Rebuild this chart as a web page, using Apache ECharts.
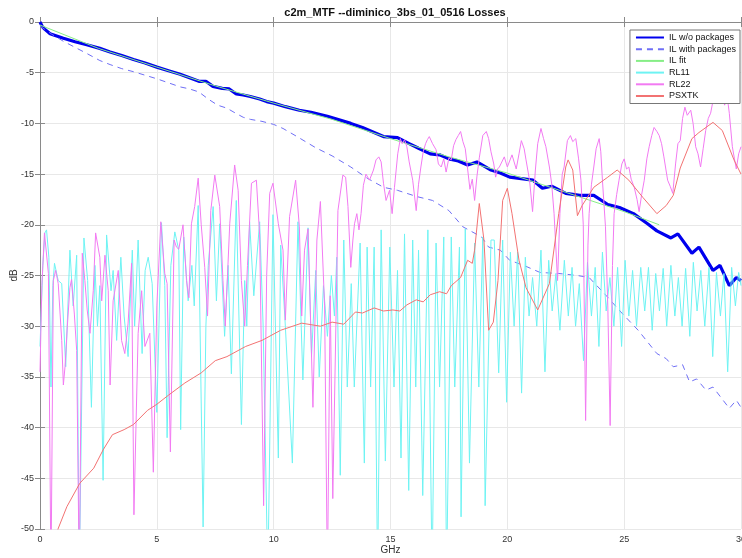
<!DOCTYPE html>
<html>
<head>
<meta charset="utf-8">
<title>c2m_MTF Losses</title>
<script src="https://cdn.jsdelivr.net/npm/echarts@6/dist/echarts.min.js"></script>
<style>
  html, body { margin: 0; padding: 0; background: #fff; }
  #chart { width: 742px; height: 558px; }
</style>
</head>
<body>
<div id="chart"></div>
<script>
// values, [GHz, dB]
var xTicks = [0, 5, 10, 15, 20, 25, 30];
var yTicks = [0, -5, -10, -15, -20, -25, -30, -35, -40, -45, -50];

var ilNoPkg = [[0,0],[0.1,-0.45],[0.2,-0.7],[0.43,-1.15],[1,-1.6],[1.5,-1.95],[2,-2.25],[2.56,-2.6],[3,-2.95],[3.5,-3.3],[4,-3.7],[4.5,-4.05],[5,-4.45],[5.5,-4.8],[6,-5.15],[6.4,-5.5],[6.8,-5.85],[7.1,-5.85],[7.4,-6.35],[7.8,-6.55],[8.1,-6.6],[8.4,-7.1],[8.7,-7.2],[9,-7.35],[9.4,-7.6],[9.7,-7.85],[10,-8.0],[10.5,-8.35],[11.1,-8.7],[11.6,-8.9],[12.3,-9.3],[12.8,-9.65],[13.3,-10.0],[13.8,-10.4],[14.3,-10.9],[14.7,-11.3],[15.3,-11.4],[15.8,-12.0],[16.2,-12.45],[16.7,-13.0],[17.1,-13.1],[17.5,-13.5],[17.9,-13.7],[18.3,-14.1],[18.7,-13.8],[19.3,-14.6],[19.7,-14.9],[20.1,-15.3],[20.6,-15.45],[21.1,-15.6],[21.5,-16.4],[21.9,-16.2],[22.5,-16.9],[23.1,-17.1],[23.7,-17.1],[24.3,-18.0],[24.8,-18.3],[25.4,-18.9],[26,-19.9],[26.4,-20.6],[27,-21.3],[27.3,-20.9],[27.9,-22.8],[28.2,-22.2],[28.8,-24.5],[29.1,-24.0],[29.5,-26.0],[29.8,-25.2],[30,-25.5]];

var ilPkg = [[0,-0.4],[0.5,-1.2],[1,-1.9],[1.5,-2.5],[2,-3.1],[2.56,-3.8],[3,-4.2],[3.5,-4.6],[4,-4.9],[4.5,-5.25],[5,-5.6],[5.5,-6.0],[6,-6.4],[6.4,-6.6],[6.8,-6.9],[7.2,-7.6],[7.6,-8.2],[8,-8.5],[8.3,-8.9],[8.7,-9.4],[9,-9.6],[9.5,-9.8],[10,-10.1],[10.4,-10.5],[11,-11.3],[11.8,-12.4],[12.5,-13.2],[13.3,-14.3],[14,-15.4],[14.7,-16.3],[15.3,-16.6],[16.1,-17.2],[16.8,-17.6],[17.5,-18.6],[18.1,-20.2],[18.9,-21.2],[19.2,-22.2],[19.7,-22.5],[20.1,-23.5],[20.7,-24.0],[21.4,-24.7],[22.2,-24.8],[23,-25.0],[23.5,-25.2],[24.2,-26.9],[24.9,-28.7],[25.6,-30.4],[26.4,-32.7],[26.8,-33.2],[27.1,-34.0],[27.5,-33.8],[27.8,-35.5],[28.1,-35.2],[28.5,-36.3],[28.8,-36.0],[29.2,-37.2],[29.5,-38.1],[29.8,-37.3],[30,-38.0]];

var ilFit = [[0,-0.3],[2.5,-2.6],[5,-4.45],[7.5,-6.3],[10,-8.0],[12.5,-9.6],[15,-11.5],[17.5,-13.3],[20,-14.9],[22.5,-16.8],[25,-18.7],[26.5,-20.0]];

var rl11 = [[0,-32],[0.12,-24],[0.21,-20.8],[0.28,-20.5],[0.38,-23.2],[0.47,-36],[0.55,-26],[0.62,-23.8],[0.78,-25.5],[0.93,-25.8],[1.1,-34],[1.28,-22.5],[1.42,-28],[1.57,-23],[1.68,-55],[1.88,-21.3],[2.04,-25.5],[2.2,-38],[2.35,-24],[2.46,-30],[2.56,-26],[2.7,-45.2],[2.85,-21],[3.04,-26.5],[3.13,-24.5],[3.28,-31.4],[3.46,-23.2],[3.6,-29],[3.77,-33],[3.95,-22.5],[4.05,-30],[4.2,-21.5],[4.37,-32.7],[4.5,-24.5],[4.63,-23.2],[4.8,-25.8],[5.0,-38.5],[5.2,-19.8],[5.34,-26],[5.44,-41],[5.6,-24],[5.77,-20.7],[5.94,-22.5],[6.02,-40.2],[6.15,-21.2],[6.34,-27.5],[6.5,-24],[6.6,-28],[6.77,-18.1],[6.98,-49.8],[7.1,-30],[7.2,-24],[7.41,-18.2],[7.55,-27.5],[7.69,-19.9],[7.9,-31],[8.05,-24],[8.19,-34.7],[8.4,-17.6],[8.62,-39.7],[8.76,-25.5],
  [8.85,-30],[8.97,-19.7],[9.15,-27],[9.4,-19.7],[9.55,-30],[9.75,-55],[9.97,-19],[10.2,-43],[10.3,-22],[10.5,-30],[10.8,-43.5],[11.04,-19.7],[11.25,-35.3],[11.47,-20.3],[11.62,-33],[11.8,-24.5],[11.95,-35],[12.13,-26],[12.3,-31],[12.47,-25],[12.6,-29],[12.7,-23.2],[12.85,-44.7],[13.0,-21.5],
  [13.15,-36],[13.32,-25.8],[13.45,-36],[13.7,-21.8],[13.88,-43.5],[14.0,-22.2],[14.15,-36],[14.3,-22.2],[14.45,-55],[14.6,-20.5],[14.78,-43.3],[14.97,-22.2],[15.15,-36],[15.3,-24.5],[15.45,-43],[15.6,-20.9],[15.78,-46.2],[15.95,-21.5],[16.08,-36],[16.2,-22.5],[16.38,-46.7],[16.6,-20.5],[16.78,-55],[16.95,-21.8],[17.1,-36],[17.28,-21.2],[17.4,-55],[17.6,-21.2],[17.75,-36],[17.95,-22.2],[18.02,-48.8],[18.2,-20.4],[18.38,-43.5],[18.6,-21.8],[18.78,-36],[18.95,-21.2],[19.05,-47.7],[19.3,-21.5],
  [19.44,-21.5],[19.63,-34.6],[19.8,-21.5],[19.97,-37.5],[20.13,-22.7],[20.29,-30],[20.44,-22.7],[20.61,-36.6],[20.77,-23.2],[20.93,-29],[21.08,-25.2],[21.26,-30],[21.44,-22.5],[21.61,-34.5],[21.77,-23.5],[21.92,-28.5],[22.08,-24.8],[22.25,-30.4],[22.44,-23.5],[22.61,-29],[22.77,-24.2],[22.92,-30],[23.08,-25.8],[23.26,-33.4],[23.43,-23.7],[23.6,-29],[23.76,-24.2],[23.92,-32],[24.07,-22.7],[24.23,-28.5],[24.39,-25.2],[24.56,-30],[24.72,-24.2],[24.89,-32],[25.04,-23.5],[25.2,-29],[25.36,-24.5],[25.53,-30],[25.71,-24.2],[25.88,-28.5],[26.04,-24.2],[26.2,-30.4],[26.35,-24.8],[26.51,-28.5],[26.67,-24.3],[26.82,-30],[27.0,-24],[27.17,-29],[27.32,-25.2],[27.48,-30],[27.63,-24.3],[27.81,-31],[27.96,-23.7],[28.12,-28.5],[28.28,-24.5],[28.45,-30],[28.63,-24.2],[28.79,-33],[28.95,-24.7],[29.12,-29],[29.27,-24.8],[29.43,-34.5],[29.6,-24.2],[29.76,-28],[29.9,-24.7],[30,-26]];

var rl22 = [[0,-34.5],[0.08,-26],[0.19,-20.8],[0.36,-24.8],[0.47,-55],[0.57,-25.5],[0.67,-24.5],[0.78,-25.8],[0.93,-31.4],[1.0,-35.8],[1.07,-34],[1.17,-30],[1.28,-26.2],[1.35,-25.4],[1.47,-28.8],[1.57,-32.4],[1.68,-55],[1.81,-22.8],[1.92,-25.5],[2.02,-28.4],[2.14,-30.7],[2.28,-26.5],[2.38,-20.8],[2.56,-23.2],[2.64,-27.5],[2.78,-23],[2.92,-26.5],[3.0,-35.8],[3.13,-27.5],[3.35,-24.5],[3.49,-31.4],[3.63,-32.7],[3.77,-29.7],[3.92,-23.8],[4.02,-48.6],[4.2,-30.7],[4.35,-26.5],[4.49,-32],[4.7,-30.7],[4.85,-44.4],[5.0,-28],[5.17,-19.7],[5.34,-24.8],[5.44,-25.8],[5.58,-42.4],[5.74,-21.5],[5.84,-22.2],[5.94,-22.4],[6.12,-20],[6.27,-25.5],[6.37,-27.2],[6.48,-19.9],[6.62,-18.2],[6.77,-15.4],[6.9,-20],[7.05,-24.2],[7.17,-29],[7.31,-18.6],[7.48,-15.1],[7.69,-18.2],[7.83,-25.5],[7.93,-30],[8.12,-19.9],[8.33,-14.1],[8.48,-16.6],[8.62,-25.5],[8.76,-30],
  [8.88,-24],[9.05,-15.9],[9.26,-15.6],[9.4,-21],[9.57,-47.7],[9.7,-25],[9.83,-16.9],[9.97,-15.9],[10.2,-19.9],[10.4,-22.5],[10.5,-29.4],[10.68,-19.2],[10.94,-15.6],[11.1,-20.2],[11.2,-29],[11.32,-22.5],[11.47,-20.4],[11.58,-29.4],[11.68,-38],[11.85,-21.5],[12.0,-17.7],[12.18,-28],[12.3,-55],[12.42,-27],[12.53,-47],[12.75,-18.6],[12.96,-15.1],[13.08,-15.3],[13.18,-18.2],[13.3,-24.2],[13.39,-21.5],[13.46,-19.9],[13.56,-18.9],[13.65,-20.5],[13.74,-18.9],[13.84,-16.1],[13.95,-15],[14.1,-15.6],[14.27,-14.6],[14.38,-13.6],[14.5,-13.3],[14.6,-13.8],[14.7,-15.9],[14.81,-17.6],[14.96,-16.6],[15.07,-18.9],[15.17,-16.3],[15.31,-13],
  [15.42,-11.5],[15.5,-12],[15.6,-11.6],[15.7,-12.3],[15.8,-13.8],[15.95,-15.6],[16.1,-18.6],[16.2,-16],[16.3,-14.3],[16.4,-12.8],[16.5,-12],[16.58,-11.6],[16.66,-11.3],[16.8,-12],[16.95,-12.6],[17.05,-14],[17.17,-14.3],[17.28,-13.5],[17.38,-14.8],[17.5,-13.4],[17.6,-13.6],[17.7,-12.2],[17.8,-11.6],[17.9,-11.2],[18.0,-10.8],[18.1,-11.8],[18.2,-12.5],[18.3,-14.5],[18.4,-16.5],[18.5,-15.5],[18.6,-17.6],[18.7,-15.2],[18.8,-13.4],[18.95,-11.2],[19.1,-10.8],[19.2,-11.5],[19.3,-12.8],[19.42,-14],[19.5,-15.3],[19.58,-14.5],[19.66,-14.3],
  [19.87,-13.3],[20.0,-14.3],[20.2,-13.1],[20.38,-14.5],[20.5,-13],[20.6,-11.7],[20.72,-12.5],[20.8,-13.6],[20.95,-15.6],[21.08,-18.7],[21.2,-14.6],[21.3,-12],[21.44,-10.5],[21.55,-11.5],[21.65,-12.3],[21.8,-14.3],[21.9,-16],[22.0,-18.9],[22.15,-25.5],[22.25,-18.9],[22.35,-15],[22.43,-14.3],[22.57,-11.7],[22.7,-11.2],[22.8,-11.8],[22.93,-11.5],[23.05,-13.5],[23.15,-15.6],[23.25,-20],[23.35,-39.3],[23.45,-22],[23.5,-18.9],[23.6,-16],[23.7,-14.3],[23.8,-12.5],[23.93,-11.5],[24.0,-12.8],[24.07,-15.6],[24.2,-20.2],[24.3,-28],[24.4,-39.8],[24.5,-24],[24.57,-18.9],[24.68,-17],[24.78,-15.6],[24.9,-14],[25.0,-13.5],[25.1,-14.5],[25.2,-14.3],[25.3,-15.5],[25.43,-16.3],[25.55,-17.5],[25.64,-18.7],[25.75,-17],[25.86,-15.6],[25.97,-13.5],[26.07,-12.3],[26.18,-11.2],[26.28,-10.4],[26.4,-10.8],[26.5,-11.2],[26.6,-12],[26.7,-13.3],[26.86,-15.6],[26.97,-16.2],[27.08,-16.9],[27.2,-14],[27.3,-12],[27.4,-11.7],[27.5,-9.5],[27.6,-8.4],[27.7,-9.2],[27.85,-8.7],[27.95,-10],[28.06,-12.3],[28.16,-13],[28.27,-14.3],[28.38,-12.5],[28.49,-10.7],[28.6,-9.5],[28.7,-9.0],[28.8,-7.8],[28.9,-7.2],[29.0,-8.0],[29.1,-7.4],[29.2,-7.4],[29.3,-8.2],[29.4,-7.2],[29.5,-9],[29.63,-12.3],[29.72,-13.5],[29.8,-14.5],[29.9,-13],[30,-12.3]];

var psxtk = [[0.7,-51],[0.77,-50],[1.15,-47.8],[1.7,-45.5],[2.3,-44],[2.7,-42.2],[3.1,-40.7],[3.6,-40.2],[4,-39.7],[4.6,-38.3],[5,-37.7],[5.5,-36.8],[6.2,-35.6],[6.9,-34.6],[7.5,-33.4],[8,-33],[8.8,-32],[9.5,-31.4],[10.3,-30.4],[11.2,-29.7],[12,-30],[12.5,-29.6],[13,-29.8],[13.5,-28.6],[13.8,-28.7],[14.3,-28.2],[14.7,-28.5],[15.1,-28.4],[15.4,-28.5],[15.7,-27.9],[16.1,-27.4],[16.4,-27.6],[16.7,-26.9],[17.1,-26.6],[17.4,-26.8],[17.6,-26.0],[18,-25.2],[18.3,-23.5],[18.5,-23.8],[18.6,-22.5],[18.8,-17.9],[19,-21.5],[19.2,-30.4],[19.4,-29.6],[19.6,-25.5],[19.8,-17.6],[20,-16.4],[20.2,-18.9],[20.5,-23.5],[20.8,-26.2],[21.3,-28.4],[21.8,-25.8],[22.2,-18.9],[22.5,-14.3],[22.6,-13.6],[22.8,-14.6],[23,-19.1],[23.2,-18.1],[23.7,-16.3],[24.3,-15.3],[24.7,-14.6],[25.2,-15.6],[25.8,-17.3],[26.4,-18.9],[26.8,-18.1],[27.1,-17.1],[27.4,-14.4],[27.9,-11.5],[28.2,-10.9],[28.8,-9.9],[29.2,-10.7],[29.7,-13.6],[30,-15.0]];

var chart = echarts.init(document.getElementById('chart'));

var font = 'Liberation Sans, Arial, Helvetica, sans-serif';
var axisCol = '#8a8a8a';

function lineSeries(name, data, color, width, type) {
    return {
        name: name,
        type: 'line',
        data: data,
        symbol: 'none',
        smooth: false,
        animation: false,
        lineStyle: { color: color, width: width, type: type || 'solid' },
        itemStyle: { color: color }
    };
}

var option = {
    backgroundColor: '#fff',
    title: {
        text: 'c2m_MTF --diminico_3bs_01_0516 Losses',
        left: 390,
        textAlign: 'center',
        top: 2,
        textStyle: { fontFamily: font, fontSize: 11, fontWeight: 'bold', color: '#111' }
    },
    legend: {
        orient: 'vertical',
        right: 2,
        top: 30,
        itemWidth: 28,
        itemHeight: 8,
        itemGap: 2.7,
        padding: [3, 4, 3, 5],
        borderColor: '#777',
        borderWidth: 1,
        backgroundColor: '#fff',
        itemStyle: { opacity: 0 },
        textStyle: { fontFamily: font, fontSize: 9, color: '#111' },
        data: ['IL w/o packages', 'IL with packages', 'IL fit', 'RL11', 'RL22', 'PSXTK']
    },
    grid: { left: 40, right: 1, top: 22, bottom: 29, containLabel: false, outerBoundsMode: 'none' },
    xAxis: [
        {
            type: 'value', min: 0, max: 30, interval: 5,
            name: 'GHz', nameLocation: 'middle', nameGap: 16, nameMoveOverlap: false,
            nameTextStyle: { fontFamily: font, fontSize: 10, color: '#333' },
            axisLine: { show: true, lineStyle: { color: axisCol } },
            axisTick: { show: true, inside: true, length: 5, lineStyle: { color: axisCol } },
            axisLabel: { fontFamily: font, fontSize: 9, color: '#333', margin: 6 },
            splitLine: { show: true, lineStyle: { color: '#e8e8e8' } }
        },
        {
            type: 'value', min: 0, max: 30, interval: 5, position: 'top',
            axisLine: { show: true, lineStyle: { color: axisCol } },
            axisTick: { show: true, inside: true, length: 5, lineStyle: { color: axisCol } },
            axisLabel: { show: false },
            splitLine: { show: false }
        }
    ],
    yAxis: [
        {
            type: 'value', min: -50, max: 0, interval: 5,
            name: 'dB', nameLocation: 'middle', nameGap: 21, nameRotate: 90, nameMoveOverlap: false,
            nameTextStyle: { fontFamily: font, fontSize: 10, color: '#333' },
            axisLine: { show: true, lineStyle: { color: axisCol } },
            axisTick: { show: true, inside: true, length: 5, lineStyle: { color: axisCol } },
            axisLabel: { fontFamily: font, fontSize: 9, color: '#333', margin: 6 },
            splitLine: { show: true, lineStyle: { color: '#e8e8e8' } }
        },
        {
            type: 'value', min: -50, max: 0, interval: 5, position: 'right',
            axisLine: { show: true, lineStyle: { color: axisCol } },
            axisTick: { show: true, inside: true, length: 5, lineStyle: { color: axisCol } },
            axisLabel: { show: false },
            splitLine: { show: false }
        }
    ],
    series: [
        lineSeries('IL w/o packages', ilNoPkg, '#0000ee', 3.2),
        lineSeries('IL with packages', ilPkg, '#6f6ff6', 1, [6, 5]),
        lineSeries('IL fit', ilFit, '#86ee86', 1),
        lineSeries('RL11', rl11, '#6ef3f3', 1),
        lineSeries('RL22', rl22, '#f27af2', 1),
        lineSeries('PSXTK', psxtk, '#f27272', 1)
    ]
};

chart.setOption(option);
</script>
</body>
</html>
